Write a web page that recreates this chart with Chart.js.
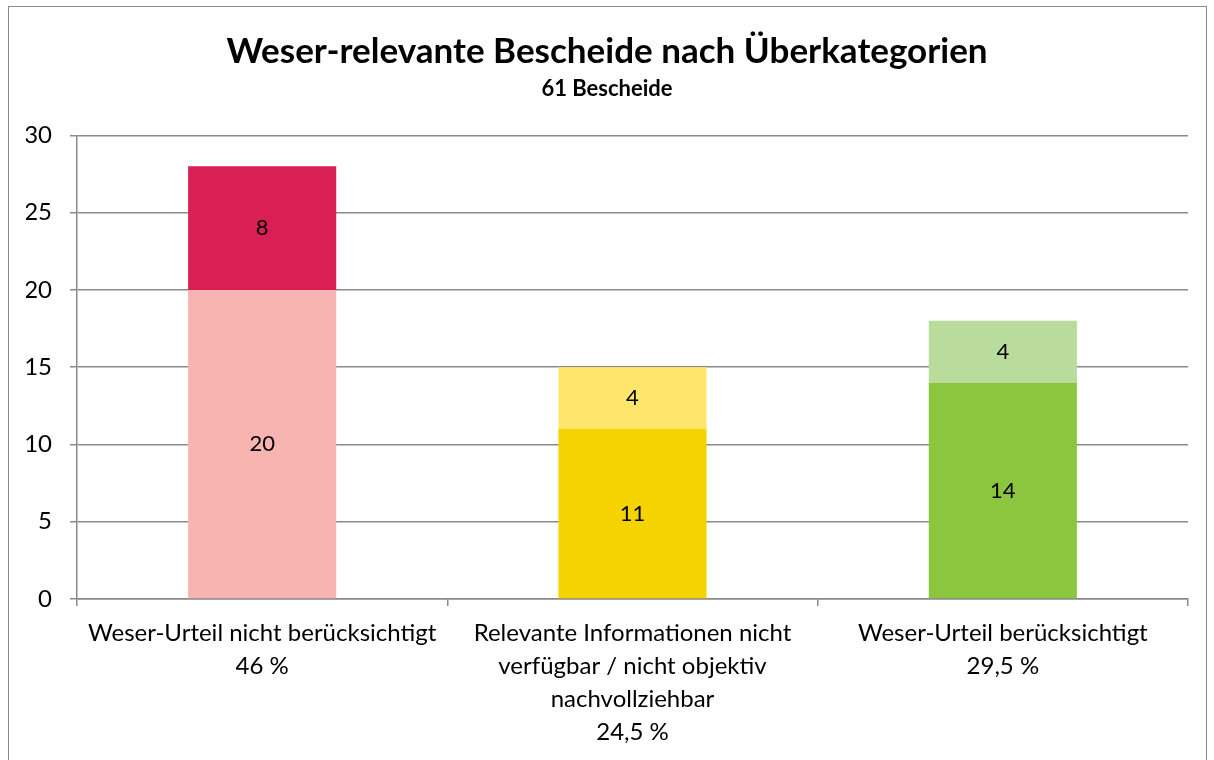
<!DOCTYPE html>
<html>
<head>
<meta charset="utf-8">
<script src="https://cdn.jsdelivr.net/npm/chart.js@4/dist/chart.umd.min.js"></script>
<style>
  html, body { margin: 0; padding: 0; background: #fff; overflow: hidden; }
  #wrap { position: relative; width: 1214px; height: 760px; }
  #frame { position: absolute; left: 8px; top: 6px; width: 1199px; height: 800px; border: 1.5px solid #8a8a8a; box-sizing: border-box; pointer-events: none; }
  canvas { position: absolute; left: 0; top: 0; }
</style>
</head>
<body>
<div id="wrap">
  <canvas id="chart" width="1214" height="760"></canvas>
  <div id="frame"></div>
</div>
<script>
const categories = [
  ['Weser-Urteil nicht berücksichtigt', '46 %'],
  ['Relevante Informationen nicht', 'verfügbar / nicht objektiv', 'nachvollziehbar', '24,5 %'],
  ['Weser-Urteil berücksichtigt', '29,5 %']
];
const baseValues = [20, 11, 14];
const topValues = [8, 4, 4];
const baseColors = ['#F8B4B0', '#F5D300', '#8CC63F'];
const topColors = ['#DA1F55', '#FEE66C', '#B9DB9B'];

const fontFamily = "Lato, 'Open Sans', 'Liberation Sans', sans-serif";
const gridColor = '#8a8a8a';

// draws the value in the middle of each stacked segment
const segmentLabels = {
  id: 'segmentLabels',
  afterDatasetsDraw(chart) {
    const { ctx } = chart;
    ctx.save();
    ctx.font = `22px ${fontFamily}`;
    ctx.fillStyle = '#000';
    ctx.textAlign = 'center';
    ctx.textBaseline = 'middle';
    chart.data.datasets.forEach((dataset, i) => {
      chart.getDatasetMeta(i).data.forEach((bar, j) => {
        const { x, y, base } = bar.getProps(['x', 'y', 'base'], true);
        ctx.fillText(String(dataset.data[j]), x, (y + base) / 2);
      });
    });
    ctx.restore();
  }
};

Chart.defaults.font.family = fontFamily;
Chart.defaults.color = '#000';

new Chart(document.querySelector('#chart'), {
  type: 'bar',
  data: {
    labels: categories,
    datasets: [
      { label: 'Basis', data: baseValues, backgroundColor: baseColors, borderWidth: 0 },
      { label: 'Zusatz', data: topValues, backgroundColor: topColors, borderWidth: 0 }
    ]
  },
  options: {
    responsive: false,
    animation: false,
    layout: { padding: { left: 26, right: 26, top: 0, bottom: 0 } },
    datasets: { bar: { categoryPercentage: 0.4, barPercentage: 1 } },
    plugins: {
      legend: { display: false },
      tooltip: { enabled: false },
      title: {
        display: true,
        text: 'Weser-relevante Bescheide nach Überkategorien',
        color: '#000',
        font: { size: 35, weight: 'bold' },
        padding: { top: 31, bottom: 3 }
      },
      subtitle: {
        display: true,
        text: '61 Bescheide',
        color: '#000',
        font: { size: 22, weight: 'bold' },
        padding: { top: 0, bottom: 33 }
      }
    },
    scales: {
      x: {
        stacked: true,
        afterFit(scale) { scale.height = 161; },
        border: { display: true, color: gridColor, width: 1.5 },
        grid: { display: true, drawOnChartArea: false, color: gridColor, lineWidth: 1.5, tickLength: 7, offset: true },
        ticks: { font: { size: 24, lineHeight: 1.375 }, color: '#000', padding: 11, maxRotation: 0, autoSkip: false }
      },
      y: {
        stacked: true,
        min: 0,
        max: 30,
        afterFit(scale) { scale.width = 51; },
        border: { display: true, color: gridColor, width: 1.5 },
        grid: { color: gridColor, lineWidth: 1.5, tickLength: 7 },
        ticks: { stepSize: 5, font: { size: 24 }, color: '#000', padding: 18 }
      }
    }
  },
  plugins: [segmentLabels]
});
</script>
</body>
</html>
